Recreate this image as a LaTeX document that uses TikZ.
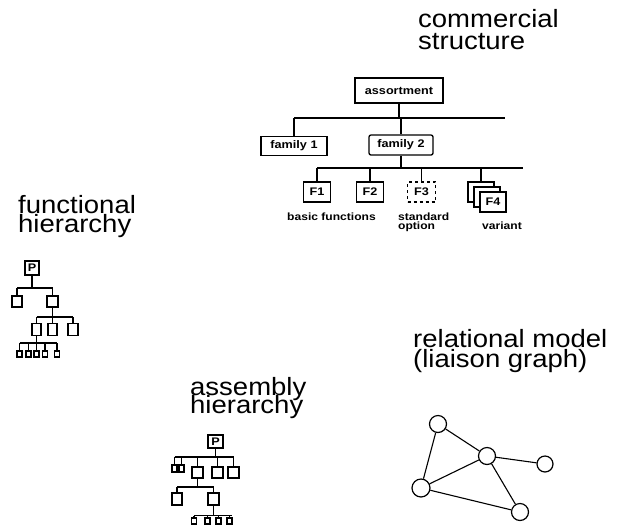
\documentclass[tikz,border=0pt]{standalone}
\usepackage{fontspec}
\newfontfamily\lblfont[FakeStretch=1.1]{Liberation Sans}
\newfontfamily\smlfont[FakeStretch=1.15]{Liberation Sans}
\newcommand\twolines[3]{\vbox{\baselineskip=#3pt\lineskiplimit=-40pt\lineskip=0pt\hbox{#1}\hbox{#2}}}
\begin{document}
\begin{tikzpicture}[x=1pt,y=-1pt,
  lbl/.style={anchor=base west,inner sep=0pt,font=\lblfont\fontsize{25}{25}\selectfont},
  cbox/.style={draw,line width=1.3pt,inner sep=0pt,font=\smlfont\bfseries\fontsize{11}{11}\selectfont},
  tbox/.style={draw,line width=1.1pt,inner sep=0pt,fill=white},
  captxt/.style={anchor=base west,inner sep=0pt,font=\smlfont\bfseries\fontsize{10.5}{8}\selectfont},
  wire/.style={line width=1.1pt},
  gnode/.style={draw,circle,line width=1.2pt,minimum size=17pt,inner sep=0pt,fill=white}
]
\useasboundingbox (0,0) rectangle (626,531);

% ---------- commercial structure ----------
\node[lbl] (t1) at (418,49) {\twolines{commercial}{structure}{22}};

\node[cbox,minimum width=88pt,minimum height=25pt] (asrt) at (399,90.5) {assortment};
\node[cbox,minimum width=66pt,minimum height=19pt] (fam1) at (294,146) {family 1};
\node[cbox,rounded corners=2pt,minimum width=64pt,minimum height=20pt] (fam2) at (401,145) {family 2};
\coordinate (b1L) at (294,118);
\coordinate (b1R) at (505,118);
\draw[wire] (b1L) -- (b1R);
\draw[wire] (asrt.south) -- (asrt.south |- b1L);
\draw[wire] (fam1.north) -- (b1L);
\draw[wire] (fam2.north) -- (fam2.north |- b1L);

\node[cbox,minimum width=27pt,minimum height=20pt] (f1) at (317,192) {F1};
\node[cbox,minimum width=27pt,minimum height=20pt] (f2) at (370,192) {F2};
\node[cbox,dashed,minimum width=28pt,minimum height=20pt] (f3) at (421.5,192) {F3};
\node[cbox,minimum width=26pt,minimum height=20pt] (f4a) at (481,192) {};
\node[cbox,fill=white,minimum width=26pt,minimum height=20pt] (f4b) at (487,197) {};
\node[cbox,fill=white,minimum width=26pt,minimum height=20pt] (f4c) at (493,202) {F4};
\coordinate (b2L) at (317,168);
\coordinate (b2R) at (523,168);
\draw[wire] (b2L) -- (b2R);
\draw[wire] (fam2.south) -- (fam2.south |- b2L);
\draw[wire] (f1.north) -- (b2L);
\draw[wire] (f2.north) -- (f2.north |- b2L);
\draw[wire] (f3.north) -- (f3.north |- b2L);
\draw[wire] (f4a.north) -- (f4a.north |- b2L);

\node[captxt] (c1) at (287,220) {basic functions};
\node[captxt] (c2) at (398,229) {\twolines{standard}{option}{8.5}};
\node[captxt] (c4) at (482,229) {variant};

% ---------- functional hierarchy ----------
\node[lbl] (t2) at (18,232) {\twolines{functional}{hierarchy}{19}};

\node[tbox,minimum width=14pt,minimum height=14pt,font=\smlfont\bfseries\fontsize{11}{11}\selectfont] (fp) at (32,268) {P};
\coordinate (fb1L) at (17,288);
\coordinate (fb1R) at (53,288);
\draw[wire] (fb1L) -- (fb1R);
\draw[wire] (fp.south) -- (fp.south |- fb1L);
\node[tbox,minimum width=10pt,minimum height=11pt] (fa1) at (17,301.5) {};
\node[tbox,minimum width=11pt,minimum height=11pt] (fa2) at (52.5,301.5) {};
\draw[wire] (fa1.north) -- (fb1L);
\draw[wire] (fa2.north) -- (fa2.north |- fb1L);

\coordinate (fb2L) at (36.5,317);
\coordinate (fb2R) at (73,317);
\draw[wire] (fb2L) -- (fb2R);
\draw[wire] (fa2.south) -- (fa2.south |- fb2L);
\node[tbox,minimum width=9pt,minimum height=12pt] (fc1) at (36.5,329.5) {};
\node[tbox,minimum width=9pt,minimum height=12pt] (fc2) at (52.5,329.5) {};
\node[tbox,minimum width=10pt,minimum height=12pt] (fc3) at (73,329.5) {};
\foreach \n in {fc1,fc2,fc3} \draw[wire] (\n.north) -- (\n.north |- fb2L);

\coordinate (fb3L) at (19.5,343);
\coordinate (fb3R) at (57,343);
\draw[wire] (fb3L) -- (fb3R);
\draw[wire] (fc1.south) -- (fc1.south |- fb3L);
\node[tbox,minimum width=5pt,minimum height=6pt] (fd1) at (19.5,354) {};
\node[tbox,minimum width=5pt,minimum height=6pt] (fd2) at (28.5,354) {};
\node[tbox,minimum width=5pt,minimum height=6pt] (fd3) at (36.5,354) {};
\node[tbox,minimum width=5pt,minimum height=6pt] (fd4) at (45,354) {};
\node[tbox,minimum width=5pt,minimum height=6pt] (fd5) at (57,354) {};
\foreach \n in {fd1,fd2,fd3,fd4,fd5} \draw[wire] (\n.north) -- (\n.north |- fb3L);

% ---------- assembly hierarchy ----------
\node[lbl] (t3) at (190,413) {\twolines{assembly}{hierarchy}{18}};

\node[tbox,minimum width=15pt,minimum height=13pt,font=\smlfont\bfseries\fontsize{11}{11}\selectfont] (ap) at (215.5,441.5) {P};
\coordinate (ab1L) at (174.5,457);
\coordinate (ab1R) at (233.5,457);
\draw[wire] (ab1L) -- (ab1R);
\draw[wire] (ap.south) -- (ap.south |- ab1L);
\node[tbox,minimum width=5pt,minimum height=7pt] (aa1) at (174.5,468.5) {};
\node[tbox,minimum width=5pt,minimum height=7pt] (aa2) at (181.5,468.5) {};
\node[tbox,minimum width=11pt,minimum height=11pt] (aa3) at (197.5,472.5) {};
\node[tbox,minimum width=11pt,minimum height=11pt] (aa4) at (217.5,472.5) {};
\node[tbox,minimum width=11pt,minimum height=11pt] (aa5) at (233.5,472.5) {};
\foreach \n in {aa1,aa2,aa3,aa4,aa5} \draw[wire] (\n.north) -- (\n.north |- ab1L);

\coordinate (ab2L) at (177,487);
\coordinate (ab2R) at (213.5,487);
\draw[wire] (ab2L) -- (ab2R);
\draw[wire] (aa3.south) -- (aa3.south |- ab2L);
\node[tbox,minimum width=10pt,minimum height=12pt] (ac1) at (177,499) {};
\node[tbox,minimum width=11pt,minimum height=12pt] (ac2) at (213.5,499) {};
\foreach \n in {ac1,ac2} \draw[wire] (\n.north) -- (\n.north |- ab2L);

\coordinate (ab3L) at (194,515.5);
\coordinate (ab3R) at (232,515.5);
\draw[wire] (ab3L) -- (ab3R);
\draw[wire] (ac2.south) -- (ac2.south |- ab3L);
\node[tbox,minimum width=5pt,minimum height=6pt] (ad1) at (194,521) {};
\node[tbox,minimum width=5pt,minimum height=6pt] (ad2) at (207.5,521) {};
\node[tbox,minimum width=5pt,minimum height=6pt] (ad3) at (218.5,521) {};
\node[tbox,minimum width=5pt,minimum height=6pt] (ad4) at (229.5,521) {};
\foreach \n in {ad1,ad2,ad3,ad4} \draw[wire] (\n.north) -- (\n.north |- ab3L);

% ---------- relational model ----------
\node[lbl] (t4) at (413,367) {\twolines{relational model}{(liaison graph)}{20}};

\node[gnode] (ga) at (438,424) {};
\node[gnode] (gb) at (487,456) {};
\node[gnode,minimum size=16pt] (gc) at (545,464) {};
\node[gnode,minimum size=18pt] (gd) at (421,488) {};
\node[gnode] (ge) at (520,512) {};
\draw[wire] (ga) -- (gb);
\draw[wire] (ga) -- (gd);
\draw[wire] (gb) -- (gc);
\draw[wire] (gb) -- (gd);
\draw[wire] (gb) -- (ge);
\draw[wire] (gd) -- (ge);
\end{tikzpicture}
\end{document}
